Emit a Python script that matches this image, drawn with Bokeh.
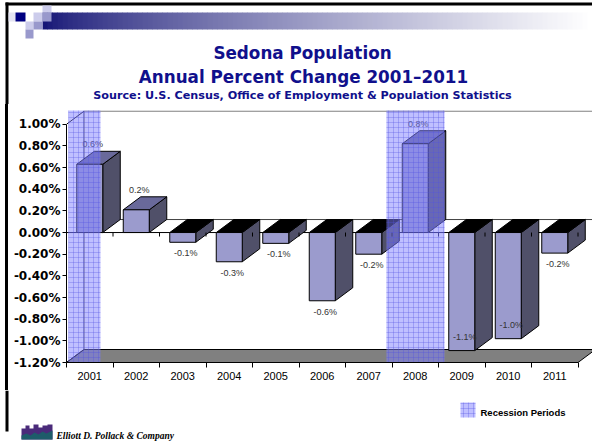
from bokeh.plotting import figure
from bokeh.layouts import column, row
from bokeh.models import Range1d, FixedTicker, PrintfTickFormatter, Spacer
from bokeh.embed import file_html
from bokeh.resources import INLINE
from bokeh.core.properties import value

# ---------------- data ----------------
years = ["2001", "2002", "2003", "2004", "2005", "2006", "2007", "2008", "2009", "2010", "2011"]
pct_change = [0.63, 0.21, -0.09, -0.27, -0.10, -0.63, -0.20, 0.82, -1.09, -0.98, -0.19]
value_labels = ["0.6%", "0.2%", "-0.1%", "-0.3%", "-0.1%", "-0.6%", "-0.2%", "0.8%", "-1.1%", "-1.0%", "-0.2%"]
y_ticks = [-1.2, -1.0, -0.8, -0.6, -0.4, -0.2, 0.0, 0.2, 0.4, 0.6, 0.8, 1.0]
recession_start = [-0.46, 6.38]
recession_end = [0.23, 7.63]
legend_text = "Recession Periods"
title_line1 = "Sedona Population"
title_line2 = "Annual Percent Change 2001\u20132011"
source_line = "Source: U.S. Census, Office of Employment & Population Statistics"
company = "Elliott D. Pollack & Company"

# ---------------- layout constants ----------------
W, H = 592, 444
TOP_H = 104          # header strip height
BOT_Y = 390          # footer starts here
LINE_X = 5           # slide border line left edge
LINE_W = 3
STRIP_W = 10         # left strip beside the chart that carries the border line
FRAME_L, FRAME_T, FRAME_B = 66, 104, 362
PX_X = 46.5          # pixels per category
PX_Y = 108.3         # pixels per percentage point
x_start = -0.5
x_end = x_start + (W - FRAME_L) / PX_X
y_start = -1.2
y_end = y_start + (FRAME_B - FRAME_T) / PX_Y

DX = 17.5 / PX_X     # 3-D depth offset
DY = 13.0 / PX_Y
HW = 13.0 / PX_X     # half bar width

BAND_FILL = dict(fill_color="#7F7FFF", fill_alpha=0.5, line_color=None,
                 hatch_pattern="+", hatch_color="#5050E0", hatch_alpha=0.3, hatch_scale=5, hatch_weight=1)
TITLE_COLOR = "#10108C"


def canvas(w, h, y_top, bg="white"):
    f = figure(width=w, height=h, x_range=Range1d(0, w), y_range=Range1d(y_top + h, y_top),
               x_axis_type=None, y_axis_type=None, output_backend="svg", toolbar_location=None,
               min_border=0, min_border_left=0, min_border_right=0, min_border_top=0, min_border_bottom=0,
               sizing_mode="fixed")
    f.outline_line_color = None
    f.background_fill_color = bg
    f.border_fill_color = bg
    return f


# ================= header =================
top = canvas(W, TOP_H, 0)
top.quad(left=[LINE_X], right=[LINE_X + LINE_W], top=[2], bottom=[TOP_H], fill_color="black", line_color=None)
top.quad(left=[LINE_X], right=[W], top=[2], bottom=[5], fill_color="black", line_color=None)
navy = (22, 22, 118)
steps = 110
g0, g1 = 42, 592
gl, gr, gc = [], [], []
for s in range(steps):
    t = (s / (steps - 1)) ** 0.75
    c = tuple(int(navy[j] + (255 - navy[j]) * t) for j in range(3))
    gl.append(g0 + (g1 - g0) * s / steps)
    gr.append(g0 + (g1 - g0) * (s + 1) / steps + 0.5)
    gc.append("#%02x%02x%02x" % c)
top.quad(left=gl, right=gr, top=[12] * steps, bottom=[29] * steps, fill_color=gc, line_color=None)

sq_l = [8, 15, 33, 42, 42, 25, 33, 25]
sq_r = [15, 25, 42, 51, 51, 33, 42, 33]
sq_t = [12, 12, 12, 5, 12, 21, 21, 29]
sq_b = [21, 21, 21, 12, 21, 29, 29, 38]
sq_c = ["#E4E4F2", "#000080", "#CCCCEB", "#CCCCEB", "#9999CC", "#CCCCEB", "#9999CC", "#9999CC"]
top.quad(left=sq_l, right=sq_r, top=sq_t, bottom=sq_b, fill_color=sq_c, line_color=None)

top.text(x=[302, 303], y=[52, 76], text=[title_line1, title_line2],
         text_font=value("DejaVu Sans"), text_font_style="bold", text_font_size="16.8px",
         text_color=TITLE_COLOR, text_align="center", text_baseline="middle")
top.text(x=[302], y=[95], text=[source_line],
         text_font=value("DejaVu Sans"), text_font_style="bold", text_font_size="11.2px",
         text_color=TITLE_COLOR, text_align="center", text_baseline="middle")

# ================= left border strip =================
mid_h = BOT_Y - TOP_H
strip_gap = Spacer(width=LINE_X, height=mid_h)
strip_line = Spacer(width=LINE_W, height=mid_h, styles={"background-color": "black"})
strip_pad = Spacer(width=STRIP_W - LINE_X - LINE_W, height=mid_h)

# ================= chart =================
n = len(years)
idx = list(range(n))
cat_lo, cat_hi = -0.5, n - 0.5
y_lo, y_hi = y_ticks[0], y_ticks[-1]

p = figure(width=W - STRIP_W, height=mid_h,
           x_range=Range1d(x_start, x_end), y_range=Range1d(y_start, y_end),
           output_backend="svg", toolbar_location=None, sizing_mode="fixed",
           min_border_left=FRAME_L - STRIP_W, min_border_right=0,
           min_border_top=FRAME_T - TOP_H, min_border_bottom=BOT_Y - FRAME_B)
p.xgrid.visible = False
p.ygrid.visible = False
p.outline_line_color = None
p.background_fill_color = "white"
p.border_fill_color = "white"

xa = p.xaxis[0]
xa.ticker = FixedTicker(ticks=idx, minor_ticks=[i - 0.5 for i in range(n + 1)])
xa.major_label_overrides = {i: years[i] for i in idx}
xa.bounds = (cat_lo, cat_hi)
xa.major_tick_line_color = None
xa.major_tick_out = 5
xa.minor_tick_in = 0
xa.minor_tick_out = 5
xa.minor_tick_line_color = "black"
xa.axis_line_color = "black"
xa.major_label_standoff = 4
xa.major_label_text_font = "Liberation Sans"
xa.major_label_text_font_size = "11px"
xa.major_label_text_color = "black"

ya = p.yaxis[0]
ya.ticker = FixedTicker(ticks=y_ticks, minor_ticks=[])
ya.formatter = PrintfTickFormatter(format="%.2f%%")
ya.bounds = (y_lo, y_hi)
ya.major_tick_in = 0
ya.major_tick_out = 4
ya.major_tick_line_color = "black"
ya.axis_line_color = "black"
ya.major_label_standoff = 2
ya.major_label_text_font = "DejaVu Sans"
ya.major_label_text_font_style = "bold"
ya.major_label_text_font_size = "12px"
ya.major_label_text_color = "black"

# floor slab
p.patch([cat_lo, cat_hi, cat_hi + DX, cat_lo + DX], [y_lo, y_lo, y_lo + DY, y_lo + DY],
        fill_color="#808080", line_color="black", line_width=1)
# back wall top edge, back zero line, left wall edges
p.segment(x0=[cat_lo + DX, cat_lo + DX, cat_lo, cat_lo, cat_lo + DX],
          y0=[y_hi + DY, DY, y_hi, y_lo, y_lo + DY],
          x1=[x_end + 1, x_end + 1, cat_lo + DX, cat_lo + DX, cat_lo + DX],
          y1=[y_hi + DY, DY, y_hi + DY, y_lo + DY, y_hi + DY],
          line_color=["#808080", "#404040", "black", "black", "#404040"], line_width=1)
# front zero line
p.segment(x0=[cat_lo], y0=[0], x1=[cat_hi], y1=[0], line_color="black", line_width=1)

# bars (side, top, front)
lo = [min(v, 0) for v in pct_change]
hi = [max(v, 0) for v in pct_change]
side_xs = [[i + HW, i + HW + DX, i + HW + DX, i + HW] for i in idx]
side_ys = [[lo[k], lo[k] + DY, hi[k] + DY, hi[k]] for k in idx]
top_xs = [[i - HW, i + HW, i + HW + DX, i - HW + DX] for i in idx]
top_ys = [[hi[k], hi[k], hi[k] + DY, hi[k] + DY] for k in idx]
top_cols = ["#69699A" if v > 0 else "black" for v in pct_change]
p.patches(side_xs, side_ys, fill_color="#505069", line_color="black", line_width=1)
p.patches(top_xs, top_ys, fill_color=top_cols, line_color="black", line_width=1)
p.vbar(x=idx, width=2 * HW, top=hi, bottom=lo, fill_color="#9B9BCD", line_color="black", line_width=1)

# tick marks on the zero line
bnd = [i - 0.5 for i in range(n + 1)]
p.segment(x0=bnd, y0=[0] * len(bnd), x1=bnd, y1=[-4 / PX_Y] * len(bnd), line_color="black", line_width=1)

# value labels
lab_y = []
for v in pct_change:
    if v > 0:
        lab_y.append(v + 20 / PX_Y)
    elif v < -0.9:
        lab_y.append(v + 14 / PX_Y)
    else:
        lab_y.append(v - 11 / PX_Y)
lab_x = [i + 3 / PX_X for i in idx]
p.text(x=lab_x, y=lab_y, text=value_labels, text_font=value("Liberation Sans"),
       text_font_size="9px", text_color="#333333", text_align="center", text_baseline="middle")

# recession bands
band_top = y_start + (FRAME_B - 110) / PX_Y
p.quad(left=recession_start, right=recession_end, bottom=[y_lo] * 2, top=[band_top] * 2, **BAND_FILL)

# ================= footer =================
bot = canvas(W, H - BOT_Y, BOT_Y)
bot.quad(left=[LINE_X], right=[LINE_X + LINE_W], top=[BOT_Y], bottom=[431], fill_color="black", line_color=None)
bot.quad(left=[460], right=[475], top=[402], bottom=[417], **BAND_FILL)
bot.text(x=[480], y=[412], text=[legend_text], text_font=value("Liberation Sans"), text_font_style="bold",
         text_font_size="9.5px", text_color="black", text_align="left", text_baseline="middle")
sky_x = [21, 21, 25, 25, 29, 29, 33, 33, 38, 38, 42, 42, 47, 47, 52, 52]
sky_y = [439, 428, 428, 425, 425, 428, 428, 424, 424, 427, 427, 425, 425, 424, 424, 439]
bot.patch(sky_x, sky_y, fill_color="#4A2A7A", line_color=None)
base_x = [21, 21, 26, 30, 34, 38, 42, 46, 52, 52]
base_y = [439, 435, 433, 435, 432, 434, 431, 433, 430, 439]
bot.patch(base_x, base_y, fill_color="#1E5C6A", line_color=None)
bot.text(x=[56], y=[435], text=[company], text_font=value("Liberation Serif"), text_font_style="bold italic",
         text_font_size="9.5px", text_color="black", text_align="left", text_baseline="middle")

layout = column(top, row(strip_gap, strip_line, strip_pad, p, spacing=0), bot, spacing=0)
open("out.html", "w").write(file_html(layout, INLINE))
